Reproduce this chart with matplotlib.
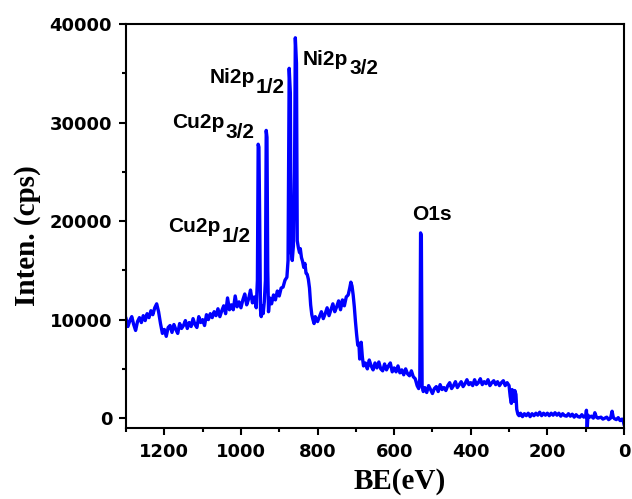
import matplotlib
matplotlib.use("Agg")
import matplotlib.pyplot as plt
from matplotlib.ticker import MultipleLocator

be = [1300, 1295, 1290, 1285, 1280, 1275, 1270, 1265, 1260, 1255, 1250, 1245, 1240, 1235, 1230,
      1225, 1220, 1215, 1210, 1205, 1200, 1195, 1190, 1185, 1180, 1175, 1170, 1165, 1160, 1155,
      1150, 1145, 1140, 1135, 1130, 1125, 1120, 1115, 1110, 1105, 1100, 1095, 1090, 1085, 1080,
      1075, 1070, 1065, 1060, 1055, 1050, 1045, 1040, 1035, 1030, 1025, 1020, 1015, 1010, 1005,
      1000, 995, 990, 985, 980, 975, 970, 965, 960, 957, 955, 953, 951, 949, 947,
      945, 942, 939, 936, 934, 932, 930, 928, 925, 920, 915, 910, 905, 900, 895,
      890, 885, 880, 877, 874, 871, 869, 866, 863, 860, 858, 855, 853, 850, 847,
      845, 842, 839, 836, 833, 830, 827, 824, 821, 818, 815, 812, 809, 806, 800,
      795, 790, 785, 780, 775, 770, 765, 760, 755, 750, 745, 740, 735, 730, 725,
      720, 716, 713, 710, 707, 704, 701, 698, 695, 692, 690, 688, 686, 683, 680,
      675, 670, 665, 660, 655, 650, 645, 640, 635, 630, 625, 620, 615, 610, 605,
      600, 595, 590, 585, 580, 575, 570, 565, 560, 555, 550, 545, 540, 536, 533,
      531, 529, 527, 524, 520, 515, 510, 505, 500, 495, 490, 485, 480, 475, 470,
      465, 460, 455, 450, 445, 440, 435, 430, 425, 420, 415, 410, 405, 400, 395,
      390, 385, 380, 375, 370, 365, 360, 355, 350, 345, 340, 335, 330, 325, 320,
      315, 310, 305, 300, 297, 294, 292, 290, 287, 285, 282, 280, 277, 274, 270,
      265, 260, 255, 250, 245, 240, 235, 230, 225, 220, 215, 210, 205, 200, 195,
      190, 185, 180, 175, 170, 165, 160, 155, 150, 145, 140, 135, 130, 125, 120,
      115, 110, 105, 100, 98, 96, 94, 90, 85, 80, 76, 72, 68, 60, 55,
      50, 45, 40, 35, 31, 28, 25, 20, 15, 10, 5, 2, 0]

intensity = [10100, 9300, 9900, 10300, 9500, 8900, 9800, 10200, 9700, 10400, 9900, 10600, 10200, 10900, 10500,
             11200, 11600, 10800, 9600, 8600, 9000, 8300, 9200, 9400, 8700, 9500, 9000, 8600, 9600, 9100,
             9400, 9900, 9100, 9700, 9300, 10100, 9500, 9200, 10300, 9700, 10000, 9400, 10500, 10000, 10600,
             10200, 10800, 10400, 11100, 10300, 10900, 11400, 10600, 12200, 11000, 11500, 11000, 12400, 11300, 11800,
             11200, 12000, 12600, 11500, 12100, 13000, 11700, 12300, 11200, 14000, 27800, 27500, 20000, 11000, 10300,
             11400, 10600, 11800, 14000, 29200, 28500, 15000, 10800, 12200, 11600, 12500, 12000, 12900, 12400, 13200,
             13300, 14000, 14300, 16000, 35500, 33000, 17000, 16000, 17500, 25000, 38600, 36000, 18000, 17300, 16800,
             17200, 16300, 15900, 15300, 15700, 14700, 14600, 14100, 13200, 11500, 10500, 10000, 9600, 10300, 9800,
             10300, 10800, 10100, 10600, 11200, 10400, 11000, 11600, 10800, 11300, 11900, 11000, 12000, 11400, 12300,
             12500, 13200, 13800, 13400, 12500, 11300, 9800, 8500, 7400, 7600, 6000, 7500, 7700, 6200, 5300,
             5600, 5000, 5900, 5300, 4900, 5600, 5100, 5700, 5000, 4800, 5500, 4900, 5300, 5600, 4700,
             5100, 4700, 5300, 4600, 4900, 4400, 5000, 4500, 4300, 4800, 4200, 4000, 3300, 3000, 4000,
             18800, 18500, 3200, 2700, 3100, 2600, 3300, 2900, 2500, 3000, 3200, 2700, 3400, 2900, 3100,
             2800, 3300, 3600, 3000, 3300, 3700, 3100, 3400, 3700, 3200, 3500, 3900, 3400, 3600, 3300,
             3900, 3400, 3600, 4000, 3400, 3700, 3500, 3900, 3300, 3600, 3800, 3400, 3700, 3300, 3600,
             3800, 3300, 3600, 3300, 2200, 1500, 2900, 2500, 1700, 2800, 2400, 900, 400, 250, 500,
             150, 450, 250, 500, 150, 450, 250, 500, 300, 600, 250, 500, 300, 500, 250,
             500, 300, 550, 300, 500, 200, 450, 250, 200, 450, 200, 400, 100, 350, 150,
             100, 350, 100, 200, 800, -1100, 300, 100, 200, 0, 550, 100, 0, 100, -100,
             0, 100, -150, 0, 700, 100, -50, -150, 50, -250, -100, -300, -600]

tick_x = [0, 200, 400, 600, 800, 1000, 1200]
tick_y = [0, 10000, 20000, 30000, 40000]

labels = [("Ni2p", "3/2", 838, 35845),
          ("Ni2p", "1/2", 1083, 34018),
          ("Cu2p", "3/2", 1180, 29450),
          ("Cu2p", "1/2", 1190, 18894),
          ("O1s", "", 553, 20112)]

plt.rcParams['font.family'] = ['Liberation Sans', 'DejaVu Sans']

fig = plt.figure(figsize=(6.32, 4.99), dpi=100)
ax = fig.add_axes([0.1994, 0.1423, 0.7879, 0.8096])
ax.plot(be, intensity, color='#0000FF', lw=2.4, solid_joinstyle='round')
ax.set_xlim(1300, 0)
ax.set_ylim(-1000, 40000)
ax.set_xticks(tick_x)
ax.set_yticks(tick_y)
ax.xaxis.set_minor_locator(MultipleLocator(100))
ax.yaxis.set_minor_locator(MultipleLocator(5000))
ax.tick_params(which='both', direction='out', top=False, right=False, width=1.5)
ax.tick_params(which='major', length=5)
ax.tick_params(which='minor', length=3)
ax.tick_params(axis='y', which='major', pad=5)
ax.tick_params(axis='x', which='major', pad=6)
for lab in ax.get_xticklabels() + ax.get_yticklabels():
    lab.set_fontweight('bold')
    lab.set_fontsize(13)
    lab.set_family('DejaVu Sans')
for s in ax.spines.values():
    s.set_linewidth(1.5)

ax.set_xlabel("BE(eV)", fontsize=21, fontweight='bold', family='Liberation Serif')
ax.set_ylabel("Inten. (cps)", fontsize=21, fontweight='bold', family='Liberation Serif')
ax.xaxis.set_label_coords(0.55, -0.10)
ax.yaxis.set_label_coords(-0.17, 0.475)

for main, sub, x, y in labels:
    t = ax.text(x, y, main, fontsize=15, fontweight='bold', ha='left', va='baseline')
    if sub:
        ax.annotate(sub, xy=(1, 0), xycoords=t, xytext=(1, -4), textcoords='offset points',
                    fontsize=15, fontweight='bold', ha='left', va='baseline')

fig.savefig("out.png", dpi=100)
